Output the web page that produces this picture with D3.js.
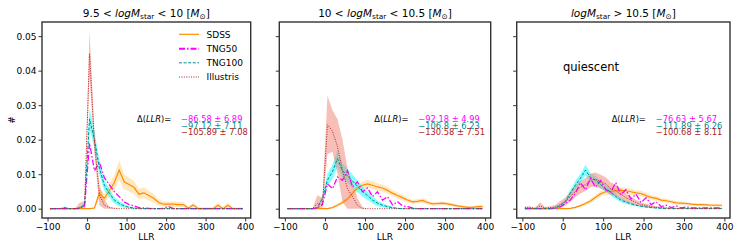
<!DOCTYPE html>
<html><head><meta charset="utf-8">
<script src="https://cdn.jsdelivr.net/npm/d3@7"></script>
<style>body{margin:0;background:#fff} text{font-family:"DejaVu Sans",sans-serif}</style>
</head><body><svg id="c" width="747" height="249"></svg>
<script>
// bin centres of the LLR histogram
const llr = [-93.75,-81.25,-68.75,-56.25,-43.75,-31.25,-18.75,-6.25,6.25,18.75,31.25,43.75,56.25,68.75,81.25,93.75,106.25,118.75,131.25,143.75,156.25,168.75,181.25,193.75,206.25,218.75,231.25,243.75,256.25,268.75,281.25,293.75,306.25,318.75,331.25,343.75,356.25,368.75,381.25,393.75];
const xTicks = [-100,0,100,200,300,400];
const yTicks = [0,0.01,0.02,0.03,0.04,0.05];
const yTickLabels = ["0.00","0.01","0.02","0.03","0.04","0.05"];
const seriesNames = ["SDSS","TNG50","TNG100","Illustris"];

// panel 1: 9.5 < logM < 10
const sdss1 =    [0,0,0,0,0,0,0,0,0,0.0002,0.0045,0.003,0.0052,0.0075,0.0112,0.0078,0.007,0.0062,0.0042,0.0046,0.0038,0.003,0.0018,0.0013,0.0013,0.0013,0.0012,0.0012,0.0001,0.0011,0,0,0,0,0.001,0,0.001,0,0,0];
const sdss1Err = [0,0,0,0,0,0,0,0,0,0.0004,0.0015,0.0012,0.0018,0.0022,0.0028,0.0022,0.002,0.0019,0.0015,0.0016,0.0014,0.0012,0.0009,0.0008,0.0008,0.0008,0.0008,0.0008,0.0004,0.0007,0.0004,0.0004,0.0004,0.0004,0.0007,0.0004,0.0007,0.0004,0.0004,0.0004];
const tng50_1 =  [0,0,0,0,0,0,0,0.0008,0.019,0.011,0.0135,0.009,0.007,0.005,0.0035,0.002,0.0012,0.0008,0.0003,0.0002,0.0001,0,0,0.0001,0.0006,0,0,0,0,0,0,0,0,0,0,0,0,0,0,0];
const tng100_1 = [0,0,0,0.0003,0,0,0.0002,0.001,0.026,0.02,0.0117,0.0068,0.0045,0.0025,0.0015,0.0008,0.0004,0.0002,0,0,0,0,0,0,0,0,0,0,0,0,0,0,0,0,0,0,0,0,0,0];
const tng100_1Err = [0.0001,0.0001,0.0001,0.0004,0.0001,0.0001,0.0003,0.0008,0.003,0.0025,0.002,0.0015,0.0012,0.0009,0.0007,0.0005,0.0003,0.0002,0.0001,0.0001,0.0001,0.0001,0.0001,0.0001,0.0001,0.0001,0.0001,0.0001,0.0001,0.0001,0.0001,0.0001,0.0001,0.0001,0.0001,0.0001,0.0001,0.0001,0.0001,0.0001];
const ill1 =     [0,0,0,0,0,0,0.0002,0.0012,0.045,0.019,0.004,0.001,0.0003,0.0001,0,0,0,0,0,0,0,0,0,0,0,0,0,0,0,0,0,0,0,0,0,0,0,0,0,0];
const ill1Err =  [0,0,0,0,0,0,0.0015,0.001,0.0065,0.003,0.003,0.0015,0.0003,0.0001,0,0,0,0,0,0,0,0,0,0,0,0,0,0,0,0,0,0,0,0,0,0,0,0,0,0];

// panel 2: 10 < logM < 10.5
const sdss2 =    [0,0,0,0,0,0,0,0,0,0.0003,0.001,0.0018,0.0028,0.0045,0.006,0.0068,0.0072,0.0068,0.0063,0.006,0.0053,0.0045,0.0038,0.0032,0.0025,0.002,0.0021,0.0024,0.0018,0.0014,0.0015,0.0016,0.0014,0.0011,0.0008,0.0006,0.0004,0.0004,0.0006,0.0006];
const sdss2Err = [0,0,0,0,0,0,0,0,0,0.0002,0.0004,0.0006,0.0007,0.0009,0.001,0.0011,0.0012,0.0011,0.0011,0.001,0.001,0.0009,0.0009,0.0008,0.0007,0.0006,0.0006,0.0007,0.0006,0.0005,0.0005,0.0005,0.0005,0.0005,0.0004,0.0004,0.0004,0.0004,0.0004,0.0004];
const tng50_2 =  [0,0,0,0,0,0,0.0002,0.0012,0.0072,0.0058,0.0092,0.0082,0.011,0.0063,0.0078,0.0049,0.006,0.0035,0.0049,0.0025,0.0035,0.0011,0.002,0.0008,0.0006,0.0002,0,0,0,0,0,0,0,0,0,0,0,0,0,0];
const tng100_2 = [0,0,0,0,0,0,0.0003,0.003,0.0083,0.0107,0.0145,0.011,0.0095,0.008,0.0065,0.005,0.0038,0.0025,0.0016,0.001,0.0006,0.0003,0.0001,0,0,0,0,0,0,0,0,0,0,0,0,0,0,0,0,0];
const tng100_2Err = [0,0,0,0,0,0,0.0003,0.001,0.0018,0.002,0.0025,0.0022,0.002,0.0019,0.0017,0.0015,0.0012,0.001,0.0008,0.0006,0.0004,0.0003,0.0002,0,0,0,0,0,0,0,0,0,0,0,0,0,0,0,0,0];
const ill2 =     [0,0,0,0,0,0,0.0015,0.001,0.0243,0.0225,0.018,0.011,0.0058,0.0035,0.001,0,0,0,0,0,0,0,0,0,0,0,0,0,0,0,0,0,0,0,0,0,0,0,0,0];
const ill2Err =  [0,0,0,0,0,0,0.0025,0.002,0.0085,0.006,0.008,0.009,0.006,0.004,0.002,0.0005,0,0,0,0,0,0,0,0,0,0,0,0,0,0,0,0,0,0,0,0,0,0,0,0];

// panel 3: logM > 10.5
const sdss3 =    [0,0,0,0,0,0,0,0,0,0.0001,0.0004,0.0009,0.0015,0.0022,0.0033,0.0043,0.0049,0.005,0.0052,0.0054,0.0052,0.0049,0.0046,0.0044,0.0038,0.0033,0.003,0.0025,0.0023,0.002,0.0017,0.0016,0.0015,0.0013,0.0012,0.0012,0.0011,0.001,0.001,0.001];
const sdss3Err = [0,0,0,0,0,0,0,0,0,0.0001,0.0003,0.0004,0.0005,0.0006,0.0007,0.0008,0.0009,0.0009,0.0009,0.0009,0.0009,0.0009,0.0008,0.0008,0.0008,0.0007,0.0007,0.0006,0.0006,0.0005,0.0005,0.0005,0.0005,0.0004,0.0004,0.0004,0.0004,0.0004,0.0004,0.0004];
const tng50_3 =  [0,0,0,0,0,0,0.0001,0.0005,0.0015,0.0025,0.0045,0.0075,0.0055,0.0088,0.0062,0.0082,0.0055,0.0048,0.0075,0.004,0.0055,0.0028,0.0042,0.0018,0.0032,0.0012,0.002,0.0006,0.001,0.0003,0.0008,0.0002,0.0005,0.0002,0.0002,0.0002,0.0002,0.0002,0.0002,0.0002];
const tng100_3 = [0,0,0,0,0,0,0.0002,0.0008,0.002,0.0045,0.0068,0.0088,0.0112,0.009,0.0083,0.007,0.0058,0.0048,0.0035,0.0025,0.0019,0.0014,0.001,0.0007,0.0005,0.0003,0.0002,0.0001,0,0,0,0,0,0,0,0,0,0,0,0];
const tng100_3Err = [0,0,0,0,0,0,0.0002,0.0005,0.0008,0.001,0.0012,0.0013,0.0015,0.0013,0.0012,0.0011,0.001,0.0009,0.0008,0.0006,0.0005,0.0004,0.0003,0.0002,0.0002,0.0001,0.0001,0.0001,0,0,0,0,0,0,0,0,0,0,0,0];
const ill3 =     [0.0003,0.0003,0.0001,0.0008,0.0002,0.0003,0.0005,0.0012,0.002,0.0035,0.005,0.0062,0.007,0.0082,0.0085,0.0078,0.0072,0.0058,0.0052,0.0042,0.0032,0.0025,0.0018,0.0012,0.0009,0.0006,0.0004,0.0003,0.0002,0.0001,0.0001,0.0001,0.0001,0.0001,0.0001,0.0001,0.0001,0.0001,0.0001,0.0001];
const ill3Err =  [0.0004,0.0004,0.0002,0.0011,0.0003,0.0004,0.0006,0.001,0.0012,0.0015,0.0017,0.0018,0.0019,0.002,0.002,0.002,0.0019,0.0018,0.0017,0.0015,0.0012,0.001,0.0008,0.0006,0.0005,0.0004,0.0003,0.0002,0.0002,0.0001,0.0001,0.0001,0.0001,0.0001,0.0001,0.0001,0.0001,0.0001,0.0001,0.0001];

const delta1 = ["−86.58 ± 6.89","−97.12 ± 7.11","−105.89 ± 7.08"];
const delta2 = ["−92.18 ± 4.99","−106.8 ± 6.23","−130.58 ± 7.51"];
const delta3 = ["−76.63 ± 5.67","−111.89 ± 6.26","−100.68 ± 8.11"];

const colors = {sdss:"#ff8c00", tng50:"#ff00ff", tng100:"#008b8b", ill:"#b22222"};
const bandColors = {sdss:"#ffa500", tng100:"#00ffff", ill:"#f08070"};
const dash = {sdss:null, tng50:"6,2,1.5,2", tng100:"3,1.6", ill:"1,1.4"};
const widths = {sdss:1.2, tng50:1.3, tng100:1.0, ill:1.0};
const deltaColors = ["#ff00ff","#008b8b","#b22222"];

const svg = d3.select("#c");
const plotTop = 22, plotBottom = 218;
const y = d3.scaleLinear().domain([-0.0027, 0.0541]).range([plotBottom, plotTop]);

const panels = [
  {left:42, width:208.7, sdss:sdss1, sdssErr:sdss1Err, tng50:tng50_1, tng100:tng100_1, tng100Err:tng100_1Err, ill:ill1, illErr:ill1Err, delta:delta1,
   title:[["9.5 < ",""],["logM","i"],["star","s"],[" < 10 [",""],["M","i"],["⊙","s"],["]",""]]},
  {left:279.3, width:211.4, sdss:sdss2, sdssErr:sdss2Err, tng50:tng50_2, tng100:tng100_2, tng100Err:tng100_2Err, ill:ill2, illErr:ill2Err, delta:delta2,
   title:[["10 < ",""],["logM","i"],["star","s"],[" < 10.5 [",""],["M","i"],["⊙","s"],["]",""]]},
  {left:516.7, width:213.3, sdss:sdss3, sdssErr:sdss3Err, tng50:tng50_3, tng100:tng100_3, tng100Err:tng100_3Err, ill:ill3, illErr:ill3Err, delta:delta3,
   title:[["logM","i"],["star","s"],[" > 10.5 [",""],["M","i"],["⊙","s"],["]",""]]}
];

const defs = svg.append("defs");

panels.forEach((p, k) => {
  const x = d3.scaleLinear().domain([-114, 414]).range([p.left, p.left + p.width]);
  defs.append("clipPath").attr("id", "clip" + k).append("rect")
    .attr("x", p.left).attr("y", plotTop).attr("width", p.width).attr("height", plotBottom - plotTop);
  const g = svg.append("g");
  const plot = g.append("g").attr("clip-path", `url(#clip${k})`);

  const area = (v, e) => d3.area().x((d, i) => x(llr[i]))
    .y0((d, i) => y(Math.max(0, v[i] - e[i]))).y1((d, i) => y(v[i] + e[i]))(v);
  const line = d3.line().x((d, i) => x(llr[i])).y(d => y(d));

  plot.append("path").attr("d", area(p.sdss, p.sdssErr)).attr("fill", bandColors.sdss).attr("fill-opacity", 0.25);
  plot.append("path").attr("d", area(p.tng100, p.tng100Err)).attr("fill", bandColors.tng100).attr("fill-opacity", 0.5);
  plot.append("path").attr("d", area(p.ill, p.illErr)).attr("fill", bandColors.ill).attr("fill-opacity", 0.5);

  [["sdss", p.sdss], ["tng50", p.tng50], ["tng100", p.tng100], ["ill", p.ill]].forEach(([key, vals]) => {
    plot.append("path").attr("d", line(vals)).attr("fill", "none")
      .attr("stroke", colors[key]).attr("stroke-width", widths[key])
      .attr("stroke-dasharray", dash[key]);
  });

  // axes
  const xa = g.append("g").attr("transform", `translate(0,${plotBottom})`)
    .call(d3.axisBottom(x).tickValues(xTicks).tickSize(3.5).tickPadding(2)
      .tickFormat(d => d < 0 ? "−" + Math.abs(d) : String(d)));
  const ya = g.append("g").attr("transform", `translate(${p.left},0)`)
    .call(d3.axisLeft(y).tickValues(yTicks).tickSize(3.5).tickPadding(2)
      .tickFormat((d, i) => k === 0 ? yTickLabels[i] : ""));
  [xa, ya].forEach(a => {
    a.select(".domain").remove();
    a.selectAll("text").attr("font-size", 9).attr("fill", "#000").style("font-family", "DejaVu Sans");
    a.selectAll("line").attr("stroke", "#000").attr("stroke-width", 0.8);
  });

  g.append("rect").attr("x", p.left).attr("y", plotTop).attr("width", p.width).attr("height", plotBottom - plotTop)
    .attr("fill", "none").attr("stroke", "#333").attr("stroke-width", 1.4);

  // title
  const t = g.append("text").attr("x", p.left + p.width / 2).attr("y", 17).attr("text-anchor", "middle").attr("font-size", 10.5);
  p.title.forEach(([s, st], j) => {
    const prev = j > 0 ? p.title[j - 1][1] : "";
    const ts = t.append("tspan").text(s);
    if (st === "i") ts.attr("font-style", "italic");
    if (st === "s") ts.attr("font-size", 7.3).attr("dy", 2);
    if (prev === "s" && st !== "s") ts.attr("dy", -2);
  });

  // x label
  g.append("text").attr("x", p.left + p.width / 2).attr("y", 240).attr("text-anchor", "middle").attr("font-size", 9).text("LLR");

  // Delta LLR annotation
  const dl = g.append("text").attr("x", p.left + 95).attr("y", 122).attr("font-size", 8.3);
  dl.append("tspan").text("Δ(");
  dl.append("tspan").attr("font-style", "italic").text("LLR");
  dl.append("tspan").text(")=");
  p.delta.forEach((s, j) => {
    g.append("text").attr("x", p.left + 139).attr("y", 122 + j * 6.6).attr("font-size", 8.3)
      .attr("fill", deltaColors[j]).text(s);
  });
});

// y label
svg.append("text").attr("transform", "translate(15,120) rotate(-90)").attr("text-anchor", "middle").attr("font-size", 9).text("#");

// legend in first panel
const leg = svg.append("g");
const legKeys = ["sdss", "tng50", "tng100", "ill"];
const legY = [34.3, 48.7, 62.8, 77];
legKeys.forEach((key, j) => {
  leg.append("line").attr("x1", 179).attr("x2", 199).attr("y1", legY[j]).attr("y2", legY[j])
    .attr("stroke", colors[key]).attr("stroke-width", key === "tng50" ? 2 : widths[key])
    .attr("stroke-dasharray", dash[key]);
  leg.append("text").attr("x", 206.5).attr("y", legY[j] + 3.2).attr("font-size", 9).text(seriesNames[j]);
});

// quiescent label
svg.append("text").attr("x", 563).attr("y", 70.5).attr("font-size", 11.5).text("quiescent");
</script></body></html>
